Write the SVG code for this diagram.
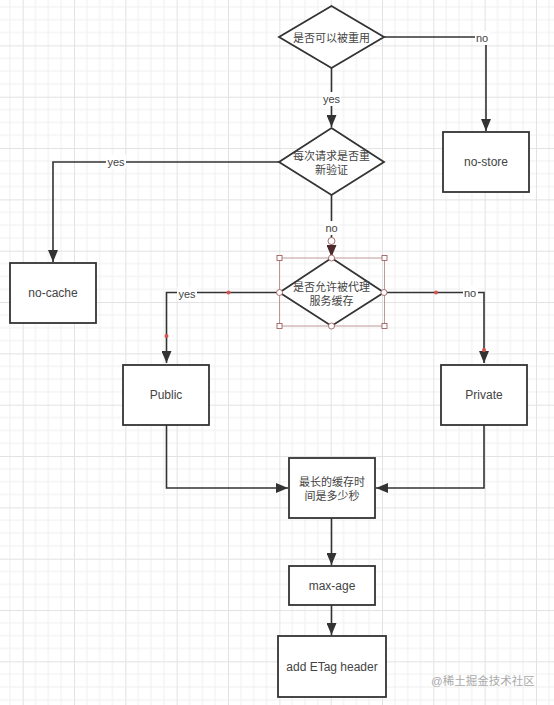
<svg xmlns="http://www.w3.org/2000/svg" width="554" height="705" viewBox="0 0 554 705">
<defs>
<pattern id="grid" patternUnits="userSpaceOnUse" x="22.7" y="45.4" width="51.33" height="51.33">
<path d="M12.83 0V51.33M25.67 0V51.33M38.5 0V51.33M0 12.83H51.33M0 25.67H51.33M0 38.5H51.33" stroke="#f0f0f0" stroke-width="1" fill="none"/>
<path d="M0.5 0V51.33M0 0.5H51.33" stroke="#e2e2e2" stroke-width="1" fill="none"/>
</pattern>
<marker id="arr" viewBox="0 0 12 10" refX="12" refY="5" markerWidth="12" markerHeight="10" markerUnits="userSpaceOnUse" orient="auto">
<path d="M0 0L12 5L0 10Z" fill="#333"/>
</marker>
<marker id="arrsel" viewBox="0 0 12 10" refX="12" refY="5" markerWidth="12" markerHeight="10" markerUnits="userSpaceOnUse" orient="auto">
<path d="M0 0L12 5L0 10Z" fill="#4a2a2a"/>
</marker>
</defs>
<style>
.shape{fill:#fff;stroke:#333;stroke-width:1.8}
.conn{fill:none;stroke:#333;stroke-width:1.6}
.t{font-family:"Liberation Sans","Noto Sans CJK SC",sans-serif;font-size:12px;fill:#444;text-anchor:middle;dominant-baseline:central}
.cjk{font-family:"Liberation Sans","Noto Sans CJK SC",sans-serif;font-size:11px;fill:#444;text-anchor:middle;dominant-baseline:central}
.lbl{font-family:"Liberation Sans","Noto Sans CJK SC",sans-serif;font-size:11px;fill:#444;text-anchor:middle;dominant-baseline:central}
.lblbg{fill:#fff}
.sel{fill:none;stroke:#b08080;stroke-width:0.8}
.hnd{fill:#fff;stroke:#a06060;stroke-width:0.9}
.dot{fill:#d9534f}
.wm{font-family:"Liberation Sans","Noto Sans CJK SC",sans-serif;font-size:11.5px;fill:#aaa;text-anchor:start;dominant-baseline:central}
</style>
<rect width="554" height="705" fill="#fff"/>
<rect width="554" height="705" fill="url(#grid)"/>

<g id="connectors">
<path class="conn" d="M331.5 68V127" marker-end="url(#arr)"/>
<path class="conn" d="M384 37H486V131" marker-end="url(#arr)"/>
<path class="conn" d="M280 162H53V262" marker-end="url(#arr)"/>
<path class="conn" d="M331.5 195V238"/>
<path class="conn" d="M331.5 244V257" marker-end="url(#arrsel)"/>
<path class="conn" d="M279.5 292.5H166.5V363" marker-end="url(#arr)"/>
<path class="conn" d="M384 292.5H484V363" marker-end="url(#arr)"/>
<path class="conn" d="M166.5 425V488H288" marker-end="url(#arr)"/>
<path class="conn" d="M484 425V488H376" marker-end="url(#arr)"/>
<path class="conn" d="M331.5 518V565" marker-end="url(#arr)"/>
<path class="conn" d="M331.5 605V635" marker-end="url(#arr)"/>
<rect class="lblbg" x="322" y="92" width="19" height="14"/>
<text class="lbl" x="331.5" y="99">yes</text>
<rect class="lblbg" x="475" y="31" width="15" height="14"/>
<text class="lbl" x="482" y="38">no</text>
<rect class="lblbg" x="106" y="155" width="20" height="14"/>
<text class="lbl" x="116" y="162">yes</text>
<rect class="lblbg" x="324" y="221" width="15" height="14"/>
<text class="lbl" x="331.5" y="228">no</text>
<rect class="lblbg" x="177" y="287" width="20" height="14"/>
<text class="lbl" x="187" y="294">yes</text>
<rect class="lblbg" x="463" y="286" width="15" height="14"/>
<text class="lbl" x="470" y="293">no</text>
</g>

<g id="node-reuse">
<polygon class="shape" points="331.5,6 384,37 331.5,68 279,37"/>
<text class="cjk" x="331.5" y="37.5">是否可以被重用</text>
</g>
<g id="node-revalidate">
<polygon class="shape" points="331.5,128 384,162 331.5,195 279,162"/>
<text class="cjk" x="331.5" y="156">每次请求是否重</text>
<text class="cjk" x="331.5" y="170">新验证</text>
</g>
<g id="node-nostore">
<rect class="shape" x="443" y="132" width="86" height="60"/>
<text class="t" x="486" y="162">no-store</text>
</g>
<g id="node-nocache">
<rect class="shape" x="10" y="263" width="86" height="60"/>
<text class="t" x="53" y="293">no-cache</text>
</g>
<g id="node-proxy">
<polygon class="shape" points="331.5,258 384,292.5 331.5,326 279.5,292.5"/>
<text class="cjk" x="331.5" y="287">是否允许被代理</text>
<text class="cjk" x="331.5" y="301">服务缓存</text>
</g>
<g id="node-public">
<rect class="shape" x="123" y="365" width="86" height="60"/>
<text class="t" x="166" y="395">Public</text>
</g>
<g id="node-private">
<rect class="shape" x="441" y="365" width="86" height="60"/>
<text class="t" x="484" y="395">Private</text>
</g>
<g id="node-maxtime">
<rect class="shape" x="289" y="458" width="86" height="60"/>
<text class="cjk" x="332" y="482">最长的缓存时</text>
<text class="cjk" x="332" y="496">间是多少秒</text>
</g>
<g id="node-maxage">
<rect class="shape" x="289" y="566" width="86" height="39"/>
<text class="t" x="332" y="586">max-age</text>
</g>
<g id="node-etag">
<rect class="shape" x="278" y="636" width="108" height="61"/>
<text class="t" x="332" y="667">add ETag header</text>
</g>

<g id="selection">
<rect class="sel" x="279.5" y="258" width="105" height="68"/>
<rect class="hnd" x="277" y="255.5" width="5" height="5"/>
<rect class="hnd" x="382" y="255.5" width="5" height="5"/>
<rect class="hnd" x="277" y="323.5" width="5" height="5"/>
<rect class="hnd" x="382" y="323.5" width="5" height="5"/>
<circle class="hnd" cx="331.5" cy="258" r="3"/>
<circle class="hnd" cx="331.5" cy="326" r="3"/>
<circle class="hnd" cx="279.5" cy="292.5" r="3"/>
<circle class="hnd" cx="384" cy="292.5" r="3"/>
<circle class="hnd" cx="331.5" cy="241" r="3.5"/>
<circle class="dot" cx="228.5" cy="292.5" r="2"/>
<circle class="dot" cx="166.5" cy="336" r="2"/>
<circle class="dot" cx="436" cy="292.5" r="2"/>
<circle class="dot" cx="484" cy="350" r="2"/>
</g>

<text class="wm" x="431" y="681">@稀土掘金技术社区</text>
</svg>
